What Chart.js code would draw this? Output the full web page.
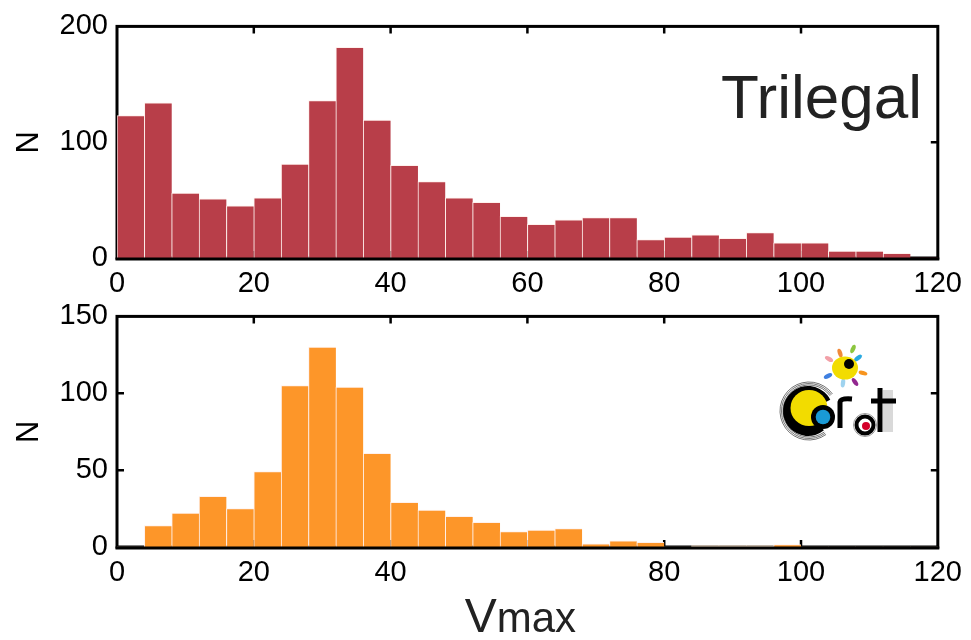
<!DOCTYPE html>
<html>
<head>
<meta charset="utf-8">
<script src="https://cdn.jsdelivr.net/npm/chart.js@4.4.0/dist/chart.umd.min.js"></script>
<style>
html, body { margin: 0; padding: 0; background: #fff; }
#wrap { position: relative; width: 971px; height: 640px; }
canvas { position: absolute; left: 0; }
#topChart { top: 0; }
#botChart { top: 290px; }
</style>
</head>
<body>
<div id="wrap">
<canvas id="topChart" width="971" height="300"></canvas>
<canvas id="botChart" width="971" height="350"></canvas>
</div>
<script>
// bin centres of the Vmax histogram (bins are 4 wide, 0..120)
const binCenters = [2, 6, 10, 14, 18, 22, 26, 30, 34, 38, 42, 46, 50, 54, 58,
    62, 66, 70, 74, 78, 82, 86, 90, 94, 98, 102, 106, 110, 114, 118];

const trilegalCounts = [123, 134, 56, 51, 45, 52, 81, 136, 182, 119, 80, 66, 52, 48, 36,
    29, 33, 35, 35, 16, 18, 20, 17, 22, 13, 13, 6, 6, 4, 0];

const corotCounts = [0, 14, 22, 33, 25, 49, 105, 130, 104, 61, 29, 24, 20, 16, 10,
    11, 12, 2, 4, 3, 0, 0.7, 0.7, 0.7, 1.5, 0, 0, 0, 0, 0];

const xTicks = [0, 20, 40, 60, 80, 100, 120];
const topYTicks = [0, 100, 200];
const botYTicks = [0, 50, 100, 150];
const botHiddenLabels = [60];

const FONT = "'Liberation Sans', Arial, Helvetica, sans-serif";

// black box round the plot with inward tick marks
const framePlugin = {
    id: "frame",
    beforeDatasetsDraw(chart) {
        const { ctx, chartArea: a, scales: { x, y } } = chart;
        ctx.save();
        ctx.strokeStyle = "#000";
        ctx.lineWidth = 3;
        ctx.strokeRect(a.left, a.top, a.right - a.left, a.bottom - a.top);
        ctx.lineWidth = 2.5;
        const len = 7;
        ctx.beginPath();
        x.ticks.forEach(t => {
            if (t.value <= x.min || t.value >= x.max) return;
            const px = x.getPixelForValue(t.value);
            ctx.moveTo(px, a.bottom); ctx.lineTo(px, a.bottom - len);
            ctx.moveTo(px, a.top); ctx.lineTo(px, a.top + len);
        });
        y.ticks.forEach(t => {
            if (t.value <= y.min || t.value >= y.max) return;
            const py = y.getPixelForValue(t.value);
            ctx.moveTo(a.left, py); ctx.lineTo(a.left + len, py);
            ctx.moveTo(a.right, py); ctx.lineTo(a.right - len, py);
        });
        ctx.stroke();
        ctx.restore();
    },
    afterDatasetsDraw(chart) {
        const { ctx, chartArea: a } = chart;
        ctx.save();
        ctx.strokeStyle = "#000";
        ctx.lineWidth = 3;
        ctx.beginPath();
        ctx.moveTo(a.left - 1.5, a.bottom + 1);
        ctx.lineTo(a.right + 1.5, a.bottom + 1);
        ctx.stroke();
        ctx.restore();
    }
};

function makeOptions(yTicks, xHeight, hidden) {
    return {
        responsive: false,
        animation: false,
        layout: { padding: { top: 0, right: 29, left: 0, bottom: 0 } },
        plugins: { legend: { display: false }, tooltip: { enabled: false } },
        scales: {
            x: {
                type: "linear",
                min: xTicks[0],
                max: xTicks[xTicks.length - 1],
                offset: false,
                afterBuildTicks: s => { s.ticks = xTicks.map(v => ({ value: v })); },
                ticks: {
                    color: "#000",
                    padding: 9,
                    maxRotation: 0,
                    font: { family: FONT, size: 29 },
                    callback: v => hidden.includes(v) ? "" : v
                },
                grid: { display: false, drawTicks: false, offset: false },
                border: { display: false },
                afterFit: s => { s.height = xHeight; }
            },
            y: {
                min: yTicks[0],
                max: yTicks[yTicks.length - 1],
                afterBuildTicks: s => { s.ticks = yTicks.map(v => ({ value: v })); },
                ticks: {
                    color: "#000",
                    padding: 9,
                    font: { family: FONT, size: 29 }
                },
                title: {
                    display: true,
                    text: "N",
                    color: "#000",
                    padding: { top: 11, bottom: 0 },
                    font: { family: FONT, size: 31 }
                },
                grid: { display: false, drawTicks: false },
                border: { display: false },
                afterFit: s => { s.width = 117; }
            }
        }
    };
}

function histData(counts, colour, faint) {
    return {
        datasets: [{
            data: counts.map((c, i) => ({ x: binCenters[i], y: c })),
            backgroundColor: ctx => (ctx.raw && ctx.raw.y < 1) ? faint : colour,
            borderColor: "rgba(255,240,235,0.9)",
            borderWidth: ctx => (ctx.raw && ctx.raw.y < 1) ? 0 : { top: 1, left: 1, right: 0, bottom: 0 },
            borderSkipped: false,
            barPercentage: 1,
            categoryPercentage: 1
        }]
    };
}

const trilegalLabel = {
    id: "trilegalLabel",
    afterDraw(chart) {
        const ctx = chart.ctx;
        ctx.save();
        ctx.fillStyle = "#222";
        ctx.font = "62px " + FONT;
        ctx.textAlign = "right";
        ctx.textBaseline = "alphabetic";
        ctx.fillText("Trilegal", 922, 118);
        ctx.restore();
    }
};

function blob(ctx, x, y, rx, ry, ang, colour) {
    ctx.save();
    ctx.translate(x, y);
    ctx.rotate(ang);
    ctx.fillStyle = colour;
    ctx.beginPath();
    ctx.ellipse(0, 0, rx, ry, 0, 0, Math.PI * 2);
    ctx.fill();
    ctx.restore();
}

// CoRoT logo, drawn in the bottom canvas (y offset 290)
function drawCorot(ctx) {
    ctx.save();
    const sx = 845, sy = 78;
    const rays = [
        [829, 69, "#f2a0a8"], [840, 63, "#f08a3a"], [853, 59, "#8cc63f"], [858, 68, "#29a9e0"],
        [863, 83, "#f7941d"], [855, 92, "#92278f"], [843, 93, "#9fd3ef"], [828, 86, "#3f7fe0"]
    ];
    rays.forEach(([rx, ry, c]) => {
        blob(ctx, rx, ry, 4.5, 2.2, Math.atan2(ry - sy, rx - sx), c);
    });
    blob(ctx, sx, sy, 13, 11.5, 0, "#f2dc00");
    blob(ctx, 849, 74, 5, 5, 0, "#000");

    // big C with concentric strokes
    const cx = 808, cy = 121;
    ctx.fillStyle = "#000";
    ctx.beginPath(); ctx.arc(cx, cy, 25, 0.28 * Math.PI, 1.85 * Math.PI); ctx.lineTo(cx, cy); ctx.fill();
    ctx.strokeStyle = "rgba(0,0,0,0.55)";
    ctx.lineWidth = 1;
    for (let r = 26; r <= 29; r += 1.5) {
        ctx.beginPath(); ctx.arc(cx + 1, cy, r, 0.3 * Math.PI, 1.8 * Math.PI); ctx.stroke();
    }
    blob(ctx, cx + 1, cy - 3, 18.5, 18, 0, "#f2dc00");
    ctx.fillStyle = "#000";
    ctx.beginPath(); ctx.arc(823, 127, 12, 0, Math.PI * 2); ctx.fill();
    ctx.fillStyle = "#1a9ad6";
    ctx.beginPath(); ctx.arc(823, 127, 7.3, 0, Math.PI * 2); ctx.fill();

    // r
    ctx.strokeStyle = "#000";
    ctx.lineWidth = 5;
    ctx.beginPath();
    ctx.moveTo(840, 138); ctx.lineTo(840, 112);
    ctx.quadraticCurveTo(841, 108, 852, 109);
    ctx.stroke();
    // o with red dot
    ctx.lineWidth = 4;
    ctx.beginPath(); ctx.arc(865, 135, 8.5, 0, Math.PI * 2); ctx.stroke();
    ctx.strokeStyle = "rgba(0,0,0,0.4)";
    ctx.lineWidth = 1;
    ctx.beginPath(); ctx.arc(865, 135, 11.5, 0, Math.PI * 2); ctx.stroke();
    ctx.fillStyle = "#d4002a";
    ctx.beginPath(); ctx.arc(866, 136, 4, 0, Math.PI * 2); ctx.fill();
    // t
    ctx.strokeStyle = "#000";
    ctx.lineWidth = 5;
    ctx.beginPath();
    ctx.moveTo(880, 98); ctx.lineTo(880, 142);
    ctx.moveTo(871, 111); ctx.lineTo(896, 111);
    ctx.stroke();
    ctx.strokeStyle = "rgba(0,0,0,0.3)";
    ctx.lineWidth = 1;
    for (let k = 1; k <= 5; k++) {
        ctx.beginPath();
        ctx.moveTo(882 + 2 * k, 100); ctx.lineTo(882 + 2 * k, 142);
        ctx.stroke();
    }
    ctx.restore();
}

const corotLabels = {
    id: "corotLabels",
    afterDraw(chart) {
        const ctx = chart.ctx;
        drawCorot(ctx);
        // axis title: large V followed by smaller "max" on the same baseline
        ctx.save();
        ctx.fillStyle = "#222";
        ctx.textBaseline = "alphabetic";
        ctx.textAlign = "left";
        ctx.font = "48px " + FONT;
        const vW = ctx.measureText("V").width;
        ctx.font = "42px " + FONT;
        const mW = ctx.measureText("max").width;
        const a = chart.chartArea;
        const start = (a.left + a.right) / 2 - 7 - (vW + mW) / 2;
        ctx.font = "48px " + FONT;
        ctx.fillText("V", start, 342);
        ctx.font = "42px " + FONT;
        ctx.fillText("max", start + vW, 342);
        ctx.restore();
    }
};

const topOpts = makeOptions(topYTicks, 42, []);
topOpts.layout.padding.top = 25;
new Chart(document.getElementById("topChart").getContext("2d"), {
    type: "bar",
    data: histData(trilegalCounts, "#b83e49", "#b83e49"),
    options: topOpts,
    plugins: [framePlugin, trilegalLabel]
});

const botOpts = makeOptions(botYTicks, 93, botHiddenLabels);
botOpts.layout.padding.top = 23;
new Chart(document.getElementById("botChart").getContext("2d"), {
    type: "bar",
    data: histData(corotCounts, "#fd9629", "#f9e2c8"),
    options: botOpts,
    plugins: [framePlugin, corotLabels]
});
</script>
</body>
</html>
